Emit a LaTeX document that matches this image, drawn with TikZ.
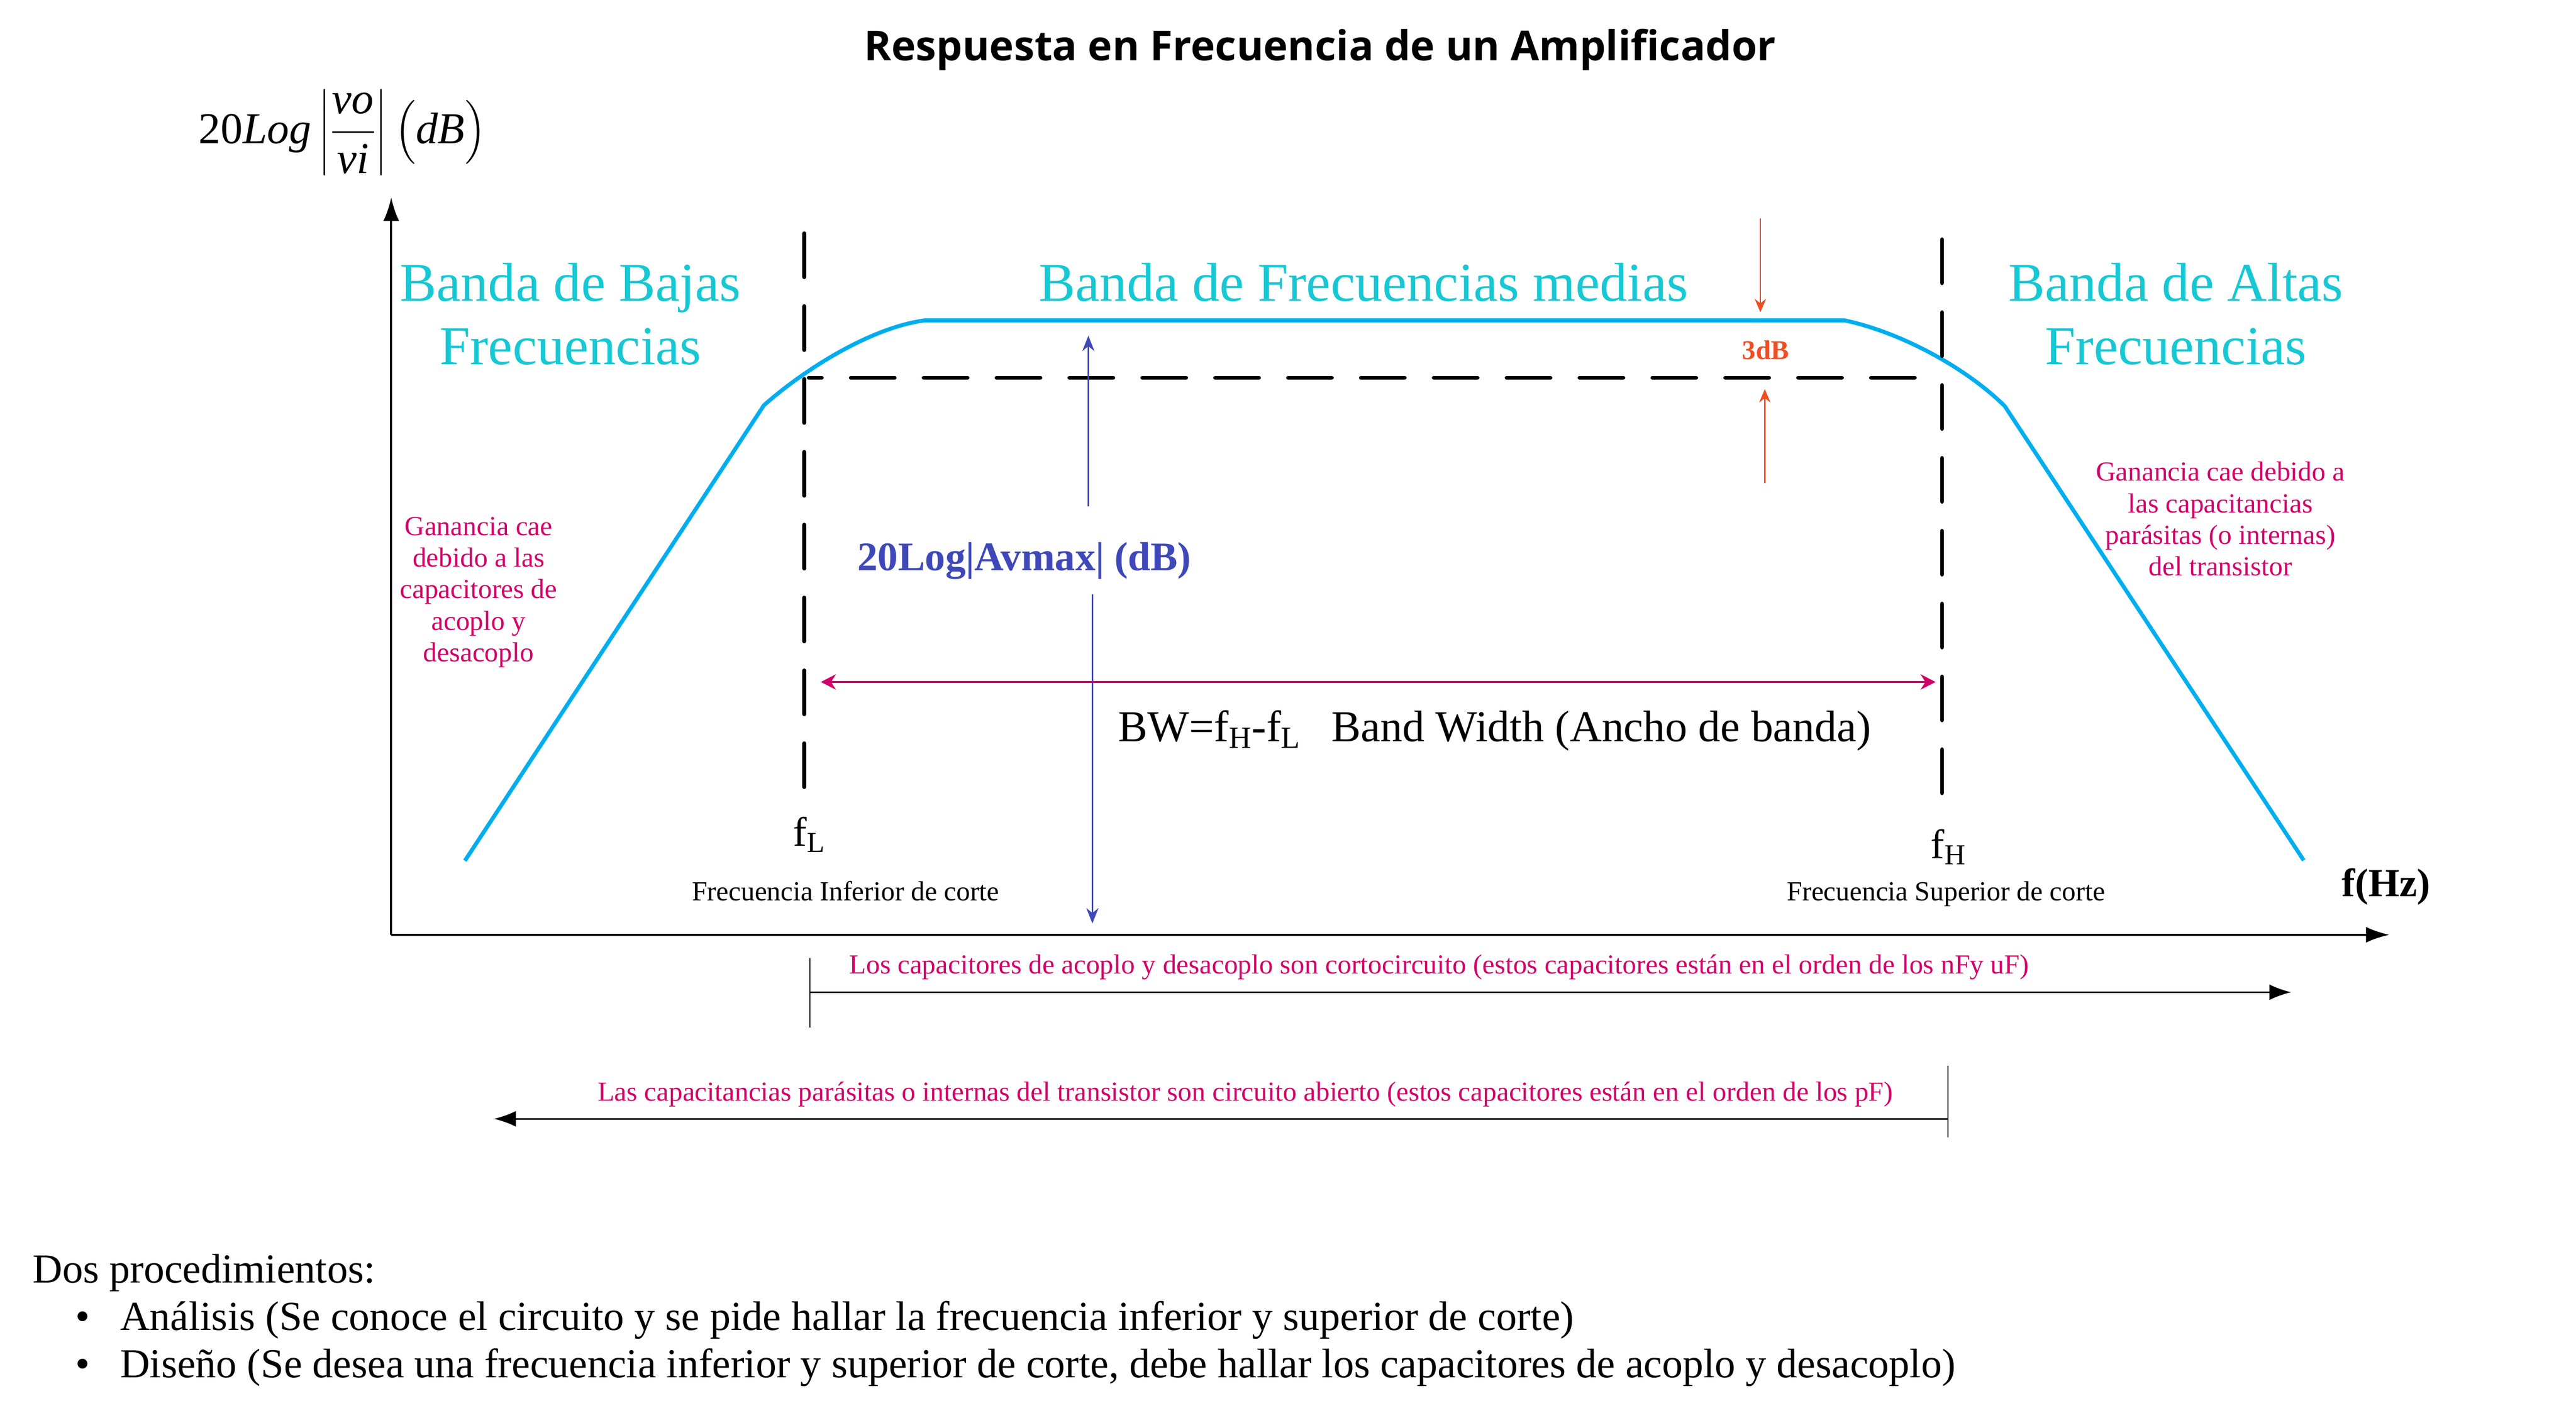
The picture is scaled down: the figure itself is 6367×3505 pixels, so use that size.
\RequirePackage{fix-cm}
\documentclass[tikz,border=0pt]{standalone}
\usepackage{amsmath}
\usepackage{fontspec}
\setmainfont{Liberation Serif}
\newfontfamily\titlefont{Open Sans}
\usepackage{tikz}
\usetikzlibrary{arrows.meta,positioning}
\tikzset{>=latex}

\definecolor{bandcyan}{RGB}{22,200,212}
\definecolor{curveblue}{RGB}{0,174,239}
\definecolor{notemag}{RGB}{210,0,105}
\definecolor{avblue}{RGB}{63,72,184}
\definecolor{dbred}{RGB}{240,78,35}

\begin{document}
\begin{tikzpicture}[x=0.01cm,y=-0.01cm,
  band/.style={text=bandcyan, align=center, inner sep=0pt, font=\fontsize{38.5}{44.7}\selectfont},
  note/.style={text=notemag, align=center, inner sep=0pt, font=\fontsize{19.4}{22.2}\selectfont},
  smalltext/.style={inner sep=0pt, font=\fontsize{19.4}{22.2}\selectfont},
  bigtext/.style={inner sep=0pt, font=\fontsize{29}{34}\selectfont},
  axisarrow/.style={line width=1.5pt, -{Latex[length=0.58cm,width=0.39cm]}},
  spanarrow/.style={line width=1.1pt, -{Latex[length=0.54cm,width=0.39cm]}},
  tickline/.style={line width=0.6pt},
  cutline/.style={line width=2.8pt, line cap=round, dash pattern=on 1.08cm off 0.72cm},
  gain/.style={draw=curveblue, line width=2.8pt, line join=round},
  bwarrow/.style={notemag, line width=1.3pt,
    {Stealth[length=0.37cm,width=0.38cm,inset=0.12cm]}-{Stealth[length=0.37cm,width=0.38cm,inset=0.12cm]}},
  avarrow/.style={avblue, line width=0.9pt, -{Stealth[length=0.38cm,width=0.3cm]}},
  dbarrow/.style={dbred, line width=1pt, -{Stealth[length=0.33cm,width=0.28cm]}}]

  \useasboundingbox (0,0) rectangle (6367,3505);

  \node[anchor=base, font=\titlefont\bfseries\fontsize{29}{35}\selectfont] (title) at (3263,150)
    {Respuesta en Frecuencia de un Amplificador};
  \node (ylab) at (846,327) {\fontsize{31}{36}\selectfont
    20\textit{Log}\,$\left|\dfrac{\text{\itshape vo}}{\text{\itshape vi}}\right|\bigl(\text{\itshape dB}\bigr)$};

  % Axes
  \coordinate (O) at (967,2311);
  \coordinate (ytop) at (967,488);
  \coordinate (xend) at (5906,2311);
  \draw[axisarrow] (O) -- (ytop);
  \draw[axisarrow] (O) -- (xend);
  \node[inner sep=0pt, font=\bfseries\fontsize{28}{34}\selectfont] (fhz) at (5898,2192) {f(Hz)};

  % Bands
  \node[band] (bajas) at (1410,776) {Banda de Bajas\\Frecuencias};
  \node[band, anchor=base] (medias) at (3370,744) {Banda de Frecuencias medias};
  \node[band] (altas) at (5378,776) {Banda de Altas\\Frecuencias};

  % Gain curve
  \draw[gain] (1149,2128) -- (1888,1002) .. controls (1985,916) and (2150,810) .. (2286,792)
    -- (4559,792) .. controls (4700,822) and (4860,910) .. (4955,1004) -- (5694,2127);

  % Cut-off lines
  \coordinate (fLtop) at (1988,577);
  \coordinate (fLbot) at (1988,1955);
  \coordinate (fHtop) at (4800,592);
  \coordinate (fHbot) at (4800,1973);
  \coordinate (m3L) at (1999,934);
  \coordinate (m3R) at (4745,934);
  \draw[cutline] (fLtop) -- (fLbot);
  \draw[cutline] (fHtop) -- (fHbot);
  \draw[cutline, dash phase=0.76cm] (m3L) -- (m3R);

  \node[bigtext, below=0.64cm of fLbot, xshift=0.12cm] (fL) {f\textsubscript{L}};
  \node[bigtext, below=0.76cm of fHbot, xshift=0.16cm] (fH) {f\textsubscript{H}};
  \node[smalltext, anchor=base] (finf) at (2090,2226) {Frecuencia Inferior de corte};
  \node[smalltext, anchor=base west] (fsup) at (4416,2226) {Frecuencia Superior de corte};

  % 3 dB
  \coordinate (db1a) at (4351,540);
  \coordinate (db1b) at (4351,772);
  \coordinate (db2a) at (4362,1195);
  \coordinate (db2b) at (4362,962);
  \draw[dbarrow] (db1a) -- (db1b);
  \draw[dbarrow] (db2a) -- (db2b);
  \node[inner sep=0pt, anchor=base, text=dbred, font=\bfseries\fontsize{19}{22}\selectfont] (tresdb)
    at (4364,888) {3dB};

  % Midband gain
  \node[inner sep=0pt, anchor=base, text=avblue, font=\bfseries\fontsize{28.5}{34}\selectfont] (avmax)
    at (2532,1410) {20Log|Avmax| (dB)};
  \coordinate (av1) at (2690,1252);
  \coordinate (avtop) at (2690,830);
  \coordinate (av2) at (2700,1469);
  \coordinate (avbot) at (2700,2283);
  \draw[avarrow] (av1) -- (avtop);
  \draw[avarrow] (av2) -- (avbot);

  % Bandwidth
  \coordinate (bwL) at (2029,1686);
  \coordinate (bwR) at (4784,1686);
  \draw[bwarrow] (bwL) -- (bwR);
  \node[inner sep=0pt, anchor=base west, font=\fontsize{31}{36}\selectfont] (bw) at (2763,1833)
    {BW=f\textsubscript{H}-f\textsubscript{L}\hspace{0.7em}Band Width (Ancho de banda)};

  % Notes
  \node[note] (caeL) at (1183,1464) {Ganancia cae\\debido a las\\capacitores de\\acoplo y\\desacoplo};
  \node[note] (caeH) at (5488,1283) {Ganancia cae debido a\\las capacitancias\\parásitas (o internas)\\del transistor};

  \node[note, anchor=base] (corto) at (3557,2407)
    {Los capacitores de acoplo y desacoplo son cortocircuito (estos capacitores están en el orden de los nFy uF)};
  \coordinate (c1) at (2002,2453);
  \coordinate (c1end) at (5663,2453);
  \coordinate (c1a) at (2002,2368);
  \coordinate (c1b) at (2002,2540);
  \draw[spanarrow] (c1) -- (c1end);
  \draw[tickline] (c1a) -- (c1b);

  \node[note, anchor=base] (abierto) at (3078,2722)
    {Las capacitancias parásitas o internas del transistor son circuito abierto (estos capacitores están en el orden de los pF)};
  \coordinate (c2) at (4815,2766);
  \coordinate (c2end) at (1221,2766);
  \coordinate (c2a) at (4815,2635);
  \coordinate (c2b) at (4815,2812);
  \draw[spanarrow] (c2) -- (c2end);
  \draw[tickline] (c2a) -- (c2b);

  % Procedures
  \node[bigtext, anchor=base west] (proc) at (80,3171) {Dos procedimientos:};
  \node[bigtext, anchor=base west] (itemA) at (296,3289)
    {Análisis (Se conoce el circuito y se pide hallar la frecuencia inferior y superior de corte)};
  \node[bigtext, anchor=base west] (itemD) at (296,3406)
    {Diseño (Se desea una frecuencia inferior y superior de corte, debe hallar los capacitores de acoplo y desacoplo)};
  \node[bigtext, anchor=base] (bulA) at (204,3289) {\textbullet};
  \node[bigtext, anchor=base] (bulD) at (204,3406) {\textbullet};

\end{tikzpicture}
\end{document}
